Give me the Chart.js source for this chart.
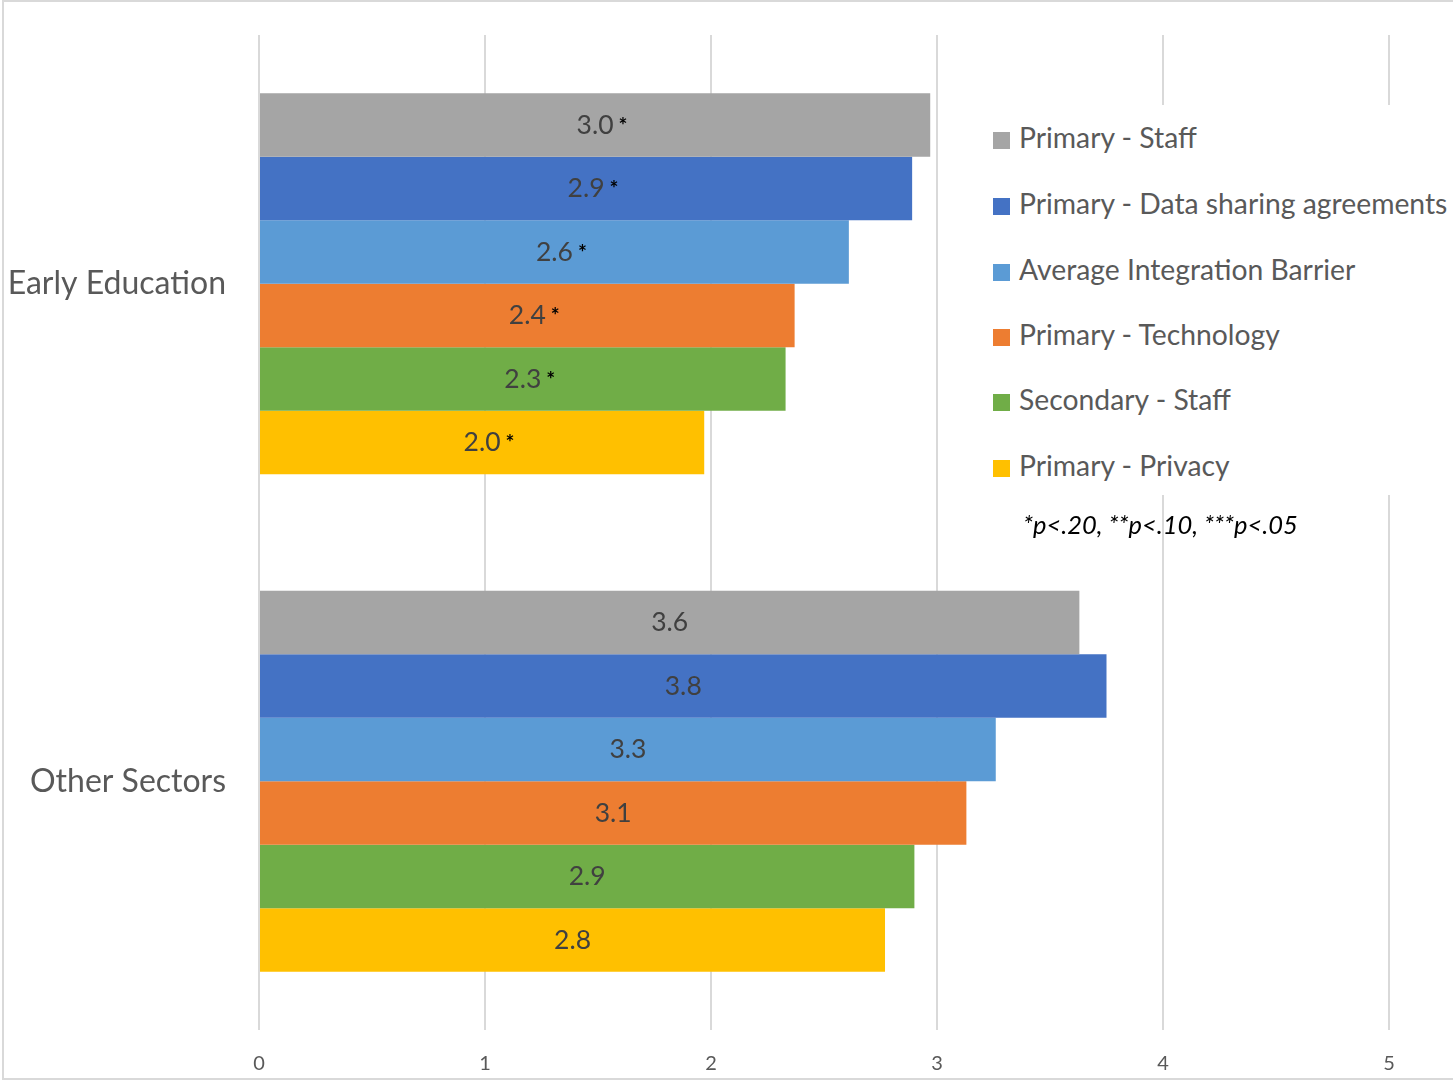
<!DOCTYPE html>
<html>
<head>
<meta charset="utf-8">
<script src="https://cdn.jsdelivr.net/npm/chart.js@4.4.1/dist/chart.umd.min.js"></script>
<style>
    html, body { margin: 0; padding: 0; background: #fff; }
    #wrap { position: relative; width: 1453px; height: 1080px; overflow: hidden; }
    #frame {
        position: absolute; left: 2px; top: 0; width: 1460px; height: 1076px;
        border: 2px solid #d9d9d9; pointer-events: none;
    }
    #legend {
        position: absolute; left: 985px; top: 105px; width: 468px; height: 390px;
        background: #fff; font-family: Lato, "Open Sans", sans-serif; font-size: 28.3px; color: #595959;
    }
    #legend .item { position: absolute; left: 8px; height: 30px; line-height: 30px; white-space: nowrap; }
    #legend .swatch { display: inline-block; width: 17px; height: 17px; margin-right: 9px; vertical-align: -1px; }
    #note {
        position: absolute; left: 1023px; top: 509px; font-family: Lato, "Open Sans", sans-serif;
        font-style: italic; font-size: 25.5px; color: #000;
    }
</style>
</head>
<body>
<div id="wrap">
    <canvas id="chart" width="1453" height="1080"></canvas>
    <div id="legend"></div>
    <div id="note">*p&lt;.20, **p&lt;.10, ***p&lt;.05</div>
    <div id="frame"></div>
</div>
<script>
// =====================================
// Data
// =====================================
const categories = ["Early Education", "Other Sectors"];

const seriesNames = [
    "Primary - Staff",
    "Primary - Data sharing agreements",
    "Average Integration Barrier",
    "Primary - Technology",
    "Secondary - Staff",
    "Primary - Privacy"
];

// values per series: [Early Education, Other Sectors]
const primaryStaff = [2.97, 3.63];
const primaryDataSharing = [2.89, 3.75];
const averageBarrier = [2.61, 3.26];
const primaryTechnology = [2.37, 3.13];
const secondaryStaff = [2.33, 2.90];
const primaryPrivacy = [1.97, 2.77];

// significance markers per series: [Early Education, Other Sectors]
const sigStaff = ["*", ""];
const sigDataSharing = ["*", ""];
const sigAverage = ["*", ""];
const sigTechnology = ["*", ""];
const sigSecondary = ["*", ""];
const sigPrivacy = ["*", ""];

const xTicks = [0, 1, 2, 3, 4, 5];

const seriesColors = ["#A5A5A5", "#4472C4", "#5B9BD5", "#ED7D31", "#70AD47", "#FFC000"];

const seriesValues = [primaryStaff, primaryDataSharing, averageBarrier, primaryTechnology, secondaryStaff, primaryPrivacy];
const seriesSig = [sigStaff, sigDataSharing, sigAverage, sigTechnology, sigSecondary, sigPrivacy];

const FONT = "Lato, 'Open Sans', sans-serif";

// =====================================
// Bar value labels (number + asterisk)
// =====================================
const valueLabels = {
    id: "valueLabels",
    afterDatasetsDraw(chart) {
        const ctx = chart.ctx;
        ctx.save();
        ctx.textBaseline = "middle";
        chart.data.datasets.forEach((ds, i) => {
            const meta = chart.getDatasetMeta(i);
            meta.data.forEach((bar, j) => {
                const text = ds.data[j].toFixed(1);
                const cx = (bar.x + bar.base) / 2;
                ctx.font = "26.5px " + FONT;
                ctx.fillStyle = "#404040";
                ctx.textAlign = "center";
                ctx.fillText(text, cx, bar.y);
                const sig = seriesSig[i][j];
                if (sig) {
                    const w = ctx.measureText(text).width;
                    ctx.font = "bold 21px " + FONT;
                    ctx.fillStyle = "#000";
                    ctx.textAlign = "left";
                    ctx.fillText(sig, cx + w / 2 + 5, bar.y + 1);
                }
            });
        });
        ctx.restore();
    }
};

// =====================================
// Chart
// =====================================
const ctx = document.getElementById("chart").getContext("2d");
new Chart(ctx, {
    type: "bar",
    data: {
        labels: categories,
        datasets: seriesNames.map((name, i) => ({
            label: name,
            data: seriesValues[i],
            backgroundColor: seriesColors[i],
            categoryPercentage: 0.766,
            barPercentage: 1.0
        }))
    },
    options: {
        indexAxis: "y",
        responsive: false,
        animation: false,
        layout: { padding: { top: 35, right: 64, left: 0, bottom: 0 } },
        plugins: {
            legend: { display: false },
            tooltip: { enabled: false }
        },
        scales: {
            x: {
                min: 0,
                max: 5,
                afterBuildTicks: (scale) => { scale.ticks = xTicks.map(v => ({ value: v })); },
                afterFit: (scale) => { scale.height = 50; },
                grid: { color: "#d9d9d9", lineWidth: 2, drawTicks: false },
                border: { display: false },
                ticks: { padding: 22, color: "#595959", font: { family: FONT, size: 20 } }
            },
            y: {
                afterFit: (scale) => {
                    scale.width = 259;
                    scale.paddingTop = 0;
                    scale.paddingBottom = 0;
                },
                grid: { display: false, drawTicks: false },
                border: { display: false },
                ticks: { padding: 33, color: "#595959", font: { family: FONT, size: 32 } }
            }
        }
    },
    plugins: [valueLabels]
});

// =====================================
// Legend (built from series arrays)
// =====================================
const legend = document.getElementById("legend");
const legendCenters = [32, 98, 164, 229, 294, 360];
seriesNames.forEach((name, i) => {
    const item = document.createElement("div");
    item.className = "item";
    item.style.top = (legendCenters[i] - 15) + "px";
    item.innerHTML = `<span class="swatch" style="background:${seriesColors[i]}"></span>${name}`;
    legend.appendChild(item);
});
</script>
</body>
</html>
